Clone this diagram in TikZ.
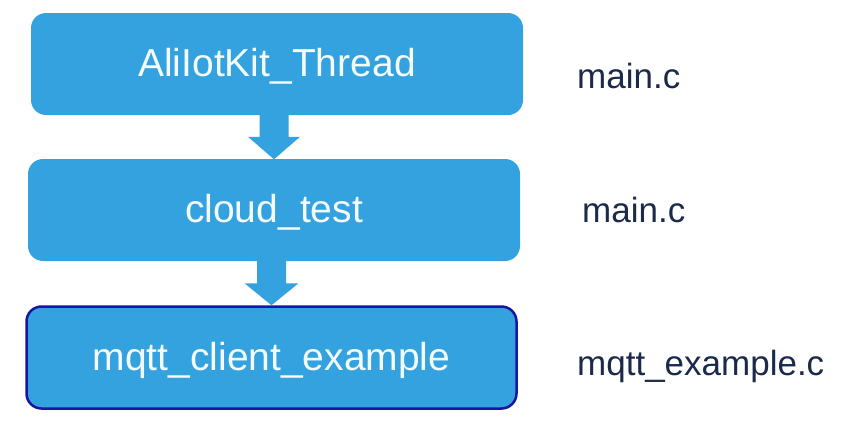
\documentclass[tikz,border=0pt]{standalone}
\usepackage{fontspec}
\setmainfont{Liberation Sans}
\usetikzlibrary{calc}
\definecolor{boxblue}{HTML}{33A2DE}
\definecolor{borderblue}{HTML}{1616A0}
\definecolor{navy}{HTML}{1B2A4A}
\definecolor{boxtext}{HTML}{F4FCFF}
\tikzset{
  procbox/.style={rectangle, rounded corners=15pt, fill=boxblue, draw=none,
    minimum width=492pt, minimum height=102pt, inner sep=0pt,
    text height=28pt, text depth=3pt,
    text=boxtext, font=\fontsize{39}{41}\selectfont},
  activebox/.style={procbox, draw=borderblue, line width=2.5pt,
    minimum width=490pt, minimum height=102pt},
  filelabel/.style={anchor=base west, inner sep=0pt, text=navy,
    font=\fontsize{35}{38}\selectfont},
  blockarrow/.style={fill=boxblue, draw=none}
}
\begin{document}
\begin{tikzpicture}[x=1pt, y=-1pt]
\useasboundingbox (0,0) rectangle (865,426);
\node[procbox] (b1) at (277,64) {AliIotKit\_Thread};
\node[procbox] (b2) at (274,210) {cloud\_test};
\node[activebox] (b3) at (271.5,357.5) {mqtt\_client\_example};
\node[filelabel] (f1) at (577,88) {main.c};
\node[filelabel] (f2) at (582,222) {main.c};
\node[filelabel] (f3) at (577,375) {mqtt\_example.c};
% block arrows between boxes
\fill[blockarrow] ($(b1.south -| b2.north)+(-14.5pt,1pt)$) -- ($(b1.south -| b2.north)+(14.5pt,1pt)$)
  -- ($(b2.north)+(14.5pt,22pt)$) -- ($(b2.north)+(26pt,22pt)$) -- ($(b2.north)+(0,-0.5pt)$)
  -- ($(b2.north)+(-26pt,22pt)$) -- ($(b2.north)+(-14.5pt,22pt)$) -- cycle;
\fill[blockarrow] ($(b2.south -| b3.north)+(-14.5pt,1pt)$) -- ($(b2.south -| b3.north)+(14.5pt,1pt)$)
  -- ($(b3.north)+(14.5pt,22pt)$) -- ($(b3.north)+(27pt,22pt)$) -- ($(b3.north)+(0,0pt)$)
  -- ($(b3.north)+(-27pt,22pt)$) -- ($(b3.north)+(-14.5pt,22pt)$) -- cycle;
\end{tikzpicture}
\end{document}
